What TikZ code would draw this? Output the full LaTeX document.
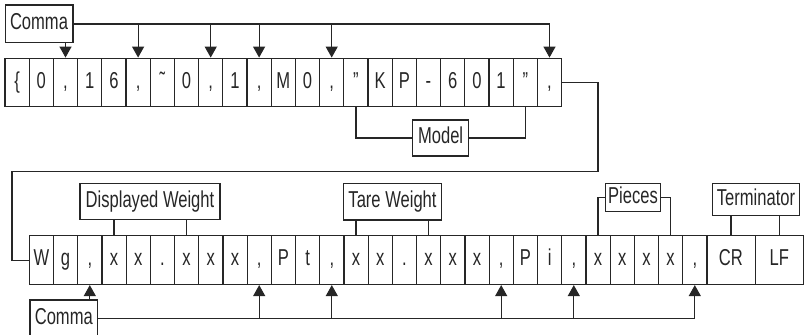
\documentclass[tikz,border=0pt]{standalone}
\usepackage{fontspec}
\setmainfont[FakeStretch=0.72]{Liberation Sans}
\usetikzlibrary{arrows.meta,positioning}

\begin{document}
\begin{tikzpicture}[
    x=0.5pt, y=-0.5pt,
    line width=0.6pt, color=black!85,
    cell/.style={draw, minimum width=12.1pt, minimum height=24.3pt, inner sep=0pt, text height=8.3pt, text depth=2.5pt, font=\fontsize{11.5}{13}\selectfont},
    wide/.style={cell, minimum width=24.2pt},
    lbl/.style={draw, inner sep=0pt, text height=8.3pt, text depth=2.5pt, font=\fontsize{11.5}{13}\selectfont},
    arr/.style={-{Triangle[width=6pt,length=5.5pt]}},
]
    \useasboundingbox (0,0) rectangle (804,335);

    % first line of the record
    \foreach \c [count=\i] in {\{,0,{,},1,6,{,},\symbol{"02DC},0,{,},1,{,},M,0,{,},'',K,P,-,6,0,1,'',{,}}
        \node[cell] (t\i) at ({5+(\i-0.5)*24.2},82.5) {\c};

    % second line of the record
    \foreach \c [count=\i] in {W,g,{,},x,x,{.},x,x,x,{,},P,t,{,},x,x,{.},x,x,x,{,},P,i,{,},x,x,x,x,{,}}
        \node[cell] (b\i) at ({29.3+(\i-0.5)*24.2},260.2) {\c};
    \node[wide] (cr) at (730.9,260.2) {CR};
    \node[wide] (lf) at (779.3,260.2) {LF};

    % labels
    \node[lbl, minimum width=33.9pt, minimum height=18.9pt] (commaT) at (39,24) {Comma};
    \node[lbl, minimum width=28.2pt, minimum height=18pt] (model) at (440.6,138) {Model};
    \node[lbl, minimum width=70pt, minimum height=18pt] (dispw) at (150,201.3) {Displayed Weight};
    \node[lbl, minimum width=49.2pt, minimum height=18.3pt] (tare) at (392.5,201.7) {Tare Weight};
    \node[lbl, minimum width=27.2pt, minimum height=14.2pt] (pieces) at (633,197.5) {Pieces};
    \node[lbl, minimum width=43.3pt, minimum height=16.2pt] (term) at (756,199.5) {Terminator};
    \node[lbl, minimum width=33.9pt, minimum height=18.5pt] (commaB) at (63.8,318.5) {Comma};

    \coordinate (turnR) at (598,171.5);
    \coordinate (turnL) at (12,171.5);

    % commas, first line
    \draw[arr] (commaT.south -| t3.north) -- (t3.north);
    \draw[arr] (commaT.east) -| (t23.north);
    \foreach \k in {6,9,11,14}
        \draw[arr] (commaT.east -| t\k.north) -- (t\k.north);

    % model bracket
    \draw (model.west) -| (t15.south);
    \draw (model.east) -| (t22.south);

    % line continues
    \draw (t23.east) -| (turnR) -- (turnL) |- (b1.west);

    % fields, second line
    \draw (dispw.south -| b4.north) -- (b4.north);
    \draw (dispw.south -| b7.north) -- (b7.north);
    \draw (tare.south -| b14.north) -- (b14.north);
    \draw (tare.south -| b17.north) -- (b17.north);
    \draw (pieces.west) -| (b24.north);
    \draw (pieces.east) -| (b27.north);
    \draw (term.south -| cr.north) -- (cr.north);
    \draw (term.south -| lf.north) -- (lf.north);

    % commas, second line
    \draw[arr] (commaB.north -| b3.south) -- (b3.south);
    \draw[arr] (commaB.east) -| (b28.south);
    \foreach \k in {10,13,20,23}
        \draw[arr] (commaB.east -| b\k.south) -- (b\k.south);
\end{tikzpicture}
\end{document}
